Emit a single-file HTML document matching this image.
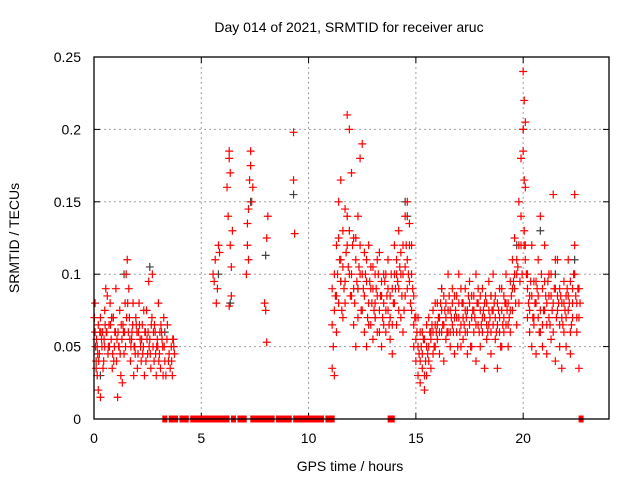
<!DOCTYPE html>
<html><head><meta charset="utf-8"><style>
body{margin:0;background:#fff}
svg{display:block;font-family:"Liberation Sans",sans-serif}
</style></head><body>
<svg id="chart" width="640" height="480">
<rect width="640" height="480" fill="#fff"/>
<text x="349" y="32" font-size="14" text-anchor="middle">Day 014 of 2021, SRMTID for receiver aruc</text>
<text x="350" y="471" font-size="14" text-anchor="middle">GPS time / hours</text>
<text transform="translate(19,238) rotate(-90)" font-size="14" text-anchor="middle">SRMTID / TECUs</text>
<g id="grid"></g>
<g id="ticks"></g>
<g id="marks"></g>
<rect x="94" y="57" width="515" height="362" fill="none" stroke="#000" stroke-width="1.3"/>
</svg>
<script>
const xTicks=[0,5,10,15,20];
const yTicks=[0,0.05,0.1,0.15,0.2,0.25];
const yTickLabels=["0","0.05","0.1","0.15","0.2","0.25"];
const earlyHours=[0.05,0.05,0.1,0.1,0.15,0.15,0.2,0.2,0.25,0.3,0.3,0.35,0.4,0.45,0.5,0.5,0.55,0.6,0.65,0.7,0.75,0.8,0.85,0.9,0.95,1.0,1.05,1.1,1.15,1.2,1.25,1.3,1.35,1.4,1.45,1.5,1.55,1.6,1.65,1.7,1.75,1.8,1.85,1.9,1.95,2.0,2.05,2.1,2.15,2.2,2.25,2.3,2.35,2.4,2.45,2.5,2.55,2.6,2.65,2.7,2.75,2.8,2.85,2.9,2.95,3.0,3.05,3.1,3.15,3.2,3.25,3.3,3.35,3.4,3.5,3.55,3.6,3.65,3.7,3.75,
0.02,0.12,0.22,0.32,0.42,0.52,0.62,0.72,0.82,0.92,1.02,1.12,1.22,1.32,1.42,1.52,1.62,1.72,1.82,1.92,2.02,2.12,2.22,2.32,2.42,2.52,2.62,2.72,2.82,2.92,3.02,3.12,3.22,3.42,3.62,3.72,
0.07,0.17,0.27,0.37,0.47,0.57,0.67,0.77,0.87,0.97,1.07,1.17,1.27,1.37,1.47,1.57,1.67,1.77,1.87,1.97,2.07,2.17,2.27,2.37,2.47,2.57,2.67,2.77,2.87,2.97,3.07,3.17,3.27,3.47,3.67,
5.55,5.6,5.65,5.7,5.75,5.8,5.85,6.2,6.25,6.3,6.3,6.35,6.35,6.4,6.4,6.45,6.3,
7.1,7.15,7.15,7.2,7.25,7.3,7.3,7.35,7.2,7.4,7.95,8.0,8.05,8.1,8.05,9.3,9.3,9.35];
const earlyValues=[.08,.06,.04,.035,.05,.03,.065,.02,.045,.07,.015,.055,.06,.04,.075,.05,.09,.06,.045,.065,.08,.055,.035,.07,.05,.06,.04,.015,.05,.075,.03,.055,.065,.045,.08,.1,.11,.06,.07,.04,.055,.065,.03,.05,.07,.06,.045,.08,.055,.04,.065,.05,.03,.06,.075,.045,.095,.055,.035,.07,.05,.04,.06,.03,.055,.08,.045,.035,.06,.05,.07,.04,.03,.055,.045,.035,.05,.03,.055,.045,
.07,.055,.04,.06,.035,.065,.085,.05,.07,.04,.09,.06,.045,.025,.06,.07,.09,.05,.08,.045,.035,.065,.055,.075,.04,.06,.045,.1,.065,.05,.04,.065,.03,.065,.04,.05,
.05,.045,.06,.05,.055,.06,.05,.065,.045,.06,.055,.05,.065,.06,.05,.08,.055,.06,.05,.065,.06,.05,.045,.06,.055,.05,.065,.06,.045,.05,.06,.055,.05,.04,.055,
.1,.095,.11,.08,.09,.12,.115,.16,.14,.18,.185,.17,.12,.105,.085,.13,.078,
.1,.12,.135,.145,.165,.185,.175,.15,.11,.16,.08,.075,.125,.14,.053,.198,.165,.128];
const lateHours=[11.1,11.2,11.3,11.4,11.5,11.6,11.7,11.8,11.9,12.0,12.1,12.2,12.3,12.4,12.5,12.6,12.7,12.8,12.9,13.0,13.1,13.2,13.3,13.4,13.5,13.6,13.7,13.8,13.9,14.0,14.1,14.2,14.3,14.4,14.5,14.6,14.7,14.8,14.9,15.0,15.1,15.2,15.3,15.4,15.5,15.6,15.7,15.8,15.9,16.0,16.1,16.2,16.3,16.4,16.5,16.6,16.7,16.8,16.9,17.0,17.1,17.2,17.3,17.4,17.5,17.6,17.7,17.8,17.9,18.0,18.1,18.2,18.3,18.4,18.5,18.6,18.7,18.8,18.9,19.0,19.1,19.2,19.3,19.4,19.5,19.6,19.7,19.8,19.9,20.0,20.05,20.1,20.2,20.3,20.4,20.5,20.6,20.7,20.8,20.9,21.0,21.1,21.2,21.3,21.4,21.5,21.6,21.7,21.8,21.9,22.0,22.1,22.2,22.3,22.4,22.5,22.6];
const lateValuesA=[.09,.075,.12,.15,.11,.13,.095,.21,.2,.17,.125,.11,.14,.18,.19,.115,.095,.12,.105,.09,.1,.085,.115,.095,.08,.1,.11,.07,.09,.12,.1,.13,.115,.1,.14,.15,.135,.12,.085,.07,.05,.06,.045,.055,.065,.04,.06,.075,.05,.055,.07,.09,.065,.08,.06,.075,.09,.07,.085,.1,.065,.08,.06,.075,.095,.07,.085,.1,.065,.075,.09,.07,.08,.095,.06,.075,.085,.065,.09,.075,.06,.1,.08,.095,.11,.125,.1,.15,.18,.24,.22,.205,.1,.085,.12,.095,.08,.11,.14,.09,.075,.065,.1,.085,.155,.09,.075,.065,.08,.095,.07,.085,.06,.09,.155,.08,.07];
const lateValuesB=[.035,.03,.06,.08,.165,.07,.145,.12,.1,.085,.065,.05,.09,.1,.075,.06,.05,.08,.065,.055,.07,.06,.075,.05,.065,.06,.075,.055,.045,.08,.065,.09,.07,.06,.085,.11,.095,.075,.05,.04,.03,.025,.035,.02,.03,.05,.035,.045,.065,.08,.045,.06,.04,.055,.1,.05,.065,.045,.06,.07,.05,.055,.09,.045,.065,.05,.06,.04,.08,.05,.06,.035,.055,.065,.045,.1,.055,.035,.07,.05,.085,.065,.05,.06,.075,.09,.065,.08,.12,.2,.165,.12,.07,.06,.05,.065,.045,.07,.06,.05,.12,.045,.07,.055,.06,.04,.11,.05,.035,.06,.05,.11,.045,.07,.12,.06,.035];
const lateValuesC=[.065,.1,.085,.125,.095,.105,.08,.14,.13,.1,.09,.125,.07,.12,.1,.085,.11,.065,.09,.105,.08,.11,.06,.085,.1,.075,.09,.085,.065,.1,.11,.075,.1,.12,.105,.09,.12,.1,.065,.055,.07,.04,.06,.03,.05,.07,.055,.06,.08,.065,.06,.075,.085,.07,.075,.06,.08,.085,.07,.08,.09,.07,.075,.06,.08,.085,.075,.065,.09,.085,.07,.08,.065,.075,.085,.065,.07,.08,.06,.09,.07,.08,.065,.075,.09,.1,.11,.12,.14,.185,.13,.16,.09,.075,.085,.07,.095,.085,.075,.065,.095,.08,.085,.1,.08,.11,.085,.09,.07,.08,.085,.075,.095,.08,.1,.07,.09];
const lateValuesD=[.05,.085,.1,.11,.075,.09,.115,.105,.085,.12,.08,.095,.105,.075,.09,.1,.07,.095,.08,.075,.09,.1,.085,.07,.095,.085,.065,.1,.08,.09,.095,.105,.085,.075,.12,.1,.08,.09,.07,.06,.045,.05,.055,.04,.045,.06,.065,.05,.06,.07,.08,.065,.075,.06,.085,.07,.06,.075,.05,.06,.08,.065,.07,.085,.05,.075,.07,.08,.06,.065,.075,.085,.06,.07,.075,.08,.06,.075,.05,.065,.08,.075,.07,.085,.095,.08,.105,.095,.1,.12,.11,.1,.08,.095,.07,.08,.09,.06,.1,.075,.085,.095,.065,.075,.09,.07,.08,.085,.065,.075,.09,.08,.065,.1,.085,.09,.08];
const grayHours=[0.3,0.9,1.4,2.6,3.3,5.8,6.35,7.3,8.0,9.3,11.5,12.3,13.1,14.5,14.6,16.2,17.4,18.5,19.7,20.0,20.8,21.5,22.4];
const grayValues=[.03,.07,.1,.105,.06,.1,.08,.15,.113,.155,.095,.09,.07,.15,.14,.09,.075,.085,.12,.2,.13,.1,.11];
const zeroHours=[3.3,3.6,3.8,4.1,4.3,4.6,4.8,5.0,5.1,5.2,5.3,5.4,5.6,5.7,5.8,5.9,6.0,6.2,6.5,6.8,6.9,7.0,7.4,7.5,7.6,7.7,7.8,8.0,8.1,8.2,8.3,8.6,8.8,8.9,9.0,9.1,9.4,9.5,9.6,9.7,9.8,9.9,10.0,10.2,10.3,10.4,10.5,10.6,10.9,11.1,13.8,13.9,22.7];

const X0=94,X1=609,Y0=419,Y1=57;
function xs(h){return X0+(h/24)*(X1-X0);}
function ys(v){return Y0-(v/0.25)*(Y0-Y1);}
const NS="http://www.w3.org/2000/svg";
const grid=document.getElementById('grid'),ticks=document.getElementById('ticks'),marks=document.getElementById('marks');
function mk(tag,attrs,parent){const e=document.createElementNS(NS,tag);for(const k in attrs)e.setAttribute(k,attrs[k]);parent.appendChild(e);return e;}
xTicks.forEach(t=>{
  const x=xs(t);
  if(t>0){const g=mk('line',{x1:x,y1:Y0,x2:x,y2:Y1,stroke:'#a0a0a0','stroke-dasharray':'2,3'},grid);
  
  }
  const a=mk('line',{x1:x,y1:Y0,x2:x,y2:Y0-6,stroke:'#000'},ticks);
  
  
  const b=mk('line',{x1:x,y1:Y1,x2:x,y2:Y1+6,stroke:'#000'},ticks);
  
  
  const l=mk('text',{x:x,y:Y0+24,'font-size':14,'text-anchor':'middle'},ticks);l.textContent=String(t);
  
  
});
yTicks.forEach((t,i)=>{
  const y=ys(t);
  if(t>0&&t<0.25){const g=mk('line',{x1:X0,y1:y,x2:X1,y2:y,stroke:'#a0a0a0','stroke-dasharray':'2,3'},grid);
  
  }
  const a=mk('line',{x1:X0,y1:y,x2:X0+6,y2:y,stroke:'#000'},ticks);
  
  
  const b=mk('line',{x1:X1,y1:y,x2:X1-6,y2:y,stroke:'#000'},ticks);
  
  
  const l=mk('text',{x:X0-13,y:y+5,'font-size':14,'text-anchor':'end'},ticks);l.textContent=yTickLabels[i];
  
  
});
function plus(h,v,color,name){
  const x=xs(h),y=ys(v);
  const p=mk('path',{d:`M${x-4},${y}H${x+4}M${x},${y-4}V${y+4}`,stroke:color,'stroke-width':1.2,fill:'none'},marks);
  
  
}
grayHours.forEach((h,i)=>plus(h,grayValues[i],'#404040','gray-point'));
earlyHours.forEach((h,i)=>plus(h,earlyValues[i],'#ff0000','red-point'));
lateHours.forEach((h,i)=>{
  plus(h,lateValuesA[i],'#ff0000','red-point');
  plus(h,lateValuesB[i],'#ff0000','red-point');
  plus(h,lateValuesC[i],'#ff0000','red-point');
  plus(h+0.05,lateValuesD[i],'#ff0000','red-point');
});
zeroHours.forEach(h=>{
  const r=mk('rect',{x:xs(h)-2.5,y:Y0-3.5,width:5,height:7,fill:'#ff0000'},marks);
  
  
});
</script>
</body></html>
